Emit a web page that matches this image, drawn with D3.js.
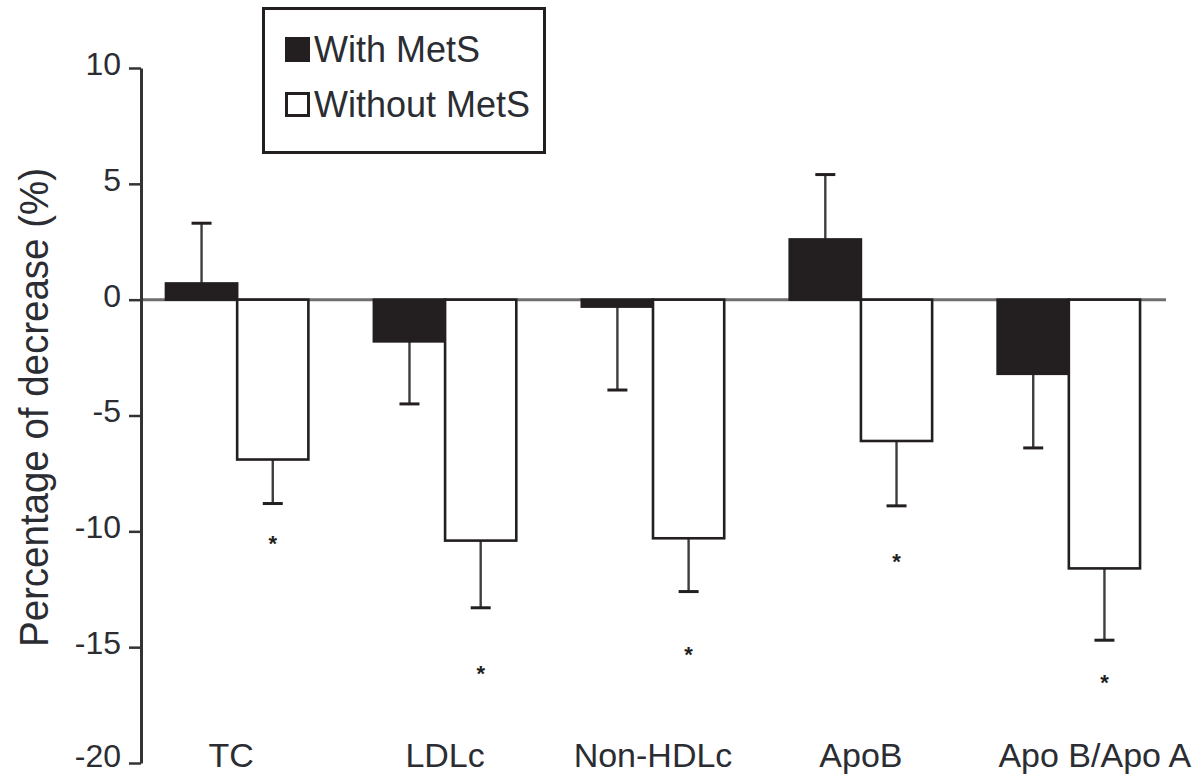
<!DOCTYPE html>
<html>
<head>
<meta charset="utf-8">
<script src="https://cdn.jsdelivr.net/npm/d3@7"></script>
<style>
  html, body { margin: 0; padding: 0; background: #fff; }
  svg { display: block; }
  text { font-family: "Liberation Sans", Arial, Helvetica, sans-serif; }
</style>
</head>
<body>
<svg id="chart" width="1200" height="775"></svg>
<script>
// Percentage change in lipid measures, grouped by metabolic syndrome status
const categories = ["TC", "LDLc", "Non-HDLc", "ApoB", "Apo B/Apo A"];
const seriesNames = ["With MetS", "Without MetS"];

// Mean change (%) per category
const withMetS = [0.7, -1.8, -0.3, 2.6, -3.2];
const withoutMetS = [-6.9, -10.4, -10.3, -6.1, -11.6];

// Error bar length (%) per category, drawn away from zero
const withMetSErr = [2.6, 2.7, 3.6, 2.8, 3.2];
const withoutMetSErr = [1.9, 2.9, 2.3, 2.8, 3.1];

// Significance markers (value on the y axis) for the "Without MetS" series
const withoutMetSSig = [-10.3, -15.9, -15.1, -11.1, -16.3];

const yTicks = [10, 5, 0, -5, -10, -15, -20];
const yTitle = "Percentage of decrease (%)";

const ink = "#231f20";
const textColor = "#2b2d33";

const svg = d3.select("#chart");

const y = d3.scaleLinear().domain([-20, 10]).range([763, 68]);
const x0 = d3.scaleBand().domain(categories).range([141, 1165])
  .paddingInner(0.315).paddingOuter(0.12);
const x1 = d3.scaleBand().domain(seriesNames).range([0, x0.bandwidth()]);

const rows = categories.map((c, i) => ({
  cat: c,
  bars: [
    { key: seriesNames[0], v: withMetS[i], e: withMetSErr[i], fill: ink, sig: null },
    { key: seriesNames[1], v: withoutMetS[i], e: withoutMetSErr[i], fill: "#fff", sig: withoutMetSSig[i] }
  ]
}));

// zero reference line
svg.append("line")
  .attr("x1", x0.range()[0]).attr("x2", x0.range()[1] + 1)
  .attr("y1", y(0)).attr("y2", y(0))
  .attr("stroke", "#6f6f6f").attr("stroke-width", 3);

const groups = svg.append("g").selectAll("g")
  .data(rows).join("g")
  .attr("transform", d => `translate(${x0(d.cat)},0)`);

// error bars (stem + cap), drawn behind the bars
groups.selectAll("g.err")
  .data(d => d.bars).join("g").attr("class", "err")
  .each(function (b) {
    const g = d3.select(this);
    const cx = x1(b.key) + x1.bandwidth() / 2;
    const end = b.v >= 0 ? b.v + b.e : b.v - b.e;
    g.append("line")
      .attr("x1", cx).attr("x2", cx)
      .attr("y1", y(b.v)).attr("y2", y(end))
      .attr("stroke", "#3d3d3d").attr("stroke-width", 2.4);
    g.append("line")
      .attr("x1", cx - 10).attr("x2", cx + 10)
      .attr("y1", y(end)).attr("y2", y(end))
      .attr("stroke", ink).attr("stroke-width", 3);
  });

// bars
groups.selectAll("rect")
  .data(d => d.bars).join("rect")
  .attr("x", b => x1(b.key))
  .attr("width", x1.bandwidth())
  .attr("y", b => y(Math.max(0, b.v)))
  .attr("height", b => Math.abs(y(b.v) - y(0)))
  .attr("fill", b => b.fill)
  .attr("stroke", ink)
  .attr("stroke-width", 2.6);

// significance asterisks
const starSize = 22;
groups.selectAll("text.sig")
  .data(d => d.bars.filter(b => b.sig !== null)).join("text")
  .attr("class", "sig")
  .attr("x", b => x1(b.key) + x1.bandwidth() / 2)
  .attr("y", b => y(b.sig) + starSize * 0.57)
  .attr("text-anchor", "middle")
  .attr("font-size", starSize)
  .attr("font-weight", "bold")
  .attr("fill", ink)
  .text("*");

// y axis (plain hyphen for negative values)
const yAxis = svg.append("g")
  .attr("transform", `translate(${x0.range()[0]},0)`)
  .call(d3.axisLeft(y).tickValues(yTicks).tickFormat(d => String(d))
    .tickSize(12).tickSizeOuter(0).tickPadding(8));
yAxis.select(".domain").attr("stroke", "#333").attr("stroke-width", 3);
yAxis.selectAll(".tick line").attr("stroke", "#333").attr("stroke-width", 2.5);
yAxis.selectAll(".tick text")
  .attr("font-size", 32)
  .attr("font-family", "Liberation Sans, Arial, sans-serif")
  .attr("fill", textColor)
  .attr("dy", "0.2em");
// keep the lowest label clear of the bottom edge
yAxis.selectAll(".tick text")
  .filter(d => d === d3.min(yTicks))
  .attr("dy", "0.1em");

// y axis title
svg.append("text")
  .attr("transform", `translate(48,${(168 + 647) / 2}) rotate(-90)`)
  .attr("text-anchor", "middle")
  .attr("font-size", 40)
  .attr("textLength", 479)
  .attr("lengthAdjust", "spacingAndGlyphs")
  .attr("fill", textColor)
  .text(yTitle);

// category labels; the long last label sits right of its group
svg.append("g").selectAll("text")
  .data(categories).join("text")
  .attr("x", (c, i) => x0(c) + x0.bandwidth() / 2 + (i === 0 ? -6 : i === categories.length - 1 ? 26 : 0))
  .attr("y", 767)
  .attr("text-anchor", "middle")
  .attr("font-size", 34)
  .attr("fill", textColor)
  .text(c => c);

// legend
const legend = svg.append("g");
legend.append("rect")
  .attr("x", 263.5).attr("y", 8.5)
  .attr("width", 281).attr("height", 144)
  .attr("fill", "#fff").attr("stroke", ink).attr("stroke-width", 3);
const items = legend.selectAll("g.item")
  .data(seriesNames).join("g").attr("class", "item")
  .attr("transform", (d, i) => `translate(286,${38 + i * 55})`);
items.append("rect")
  .attr("x", 0.5).attr("y", 0.5).attr("width", 22).attr("height", 22)
  .attr("fill", (d, i) => i === 0 ? ink : "#fff")
  .attr("stroke", ink).attr("stroke-width", 3);
items.append("text")
  .attr("x", 28).attr("y", 24)
  .attr("font-size", 36)
  .attr("fill", textColor)
  .text(d => d);
</script>
</body>
</html>
